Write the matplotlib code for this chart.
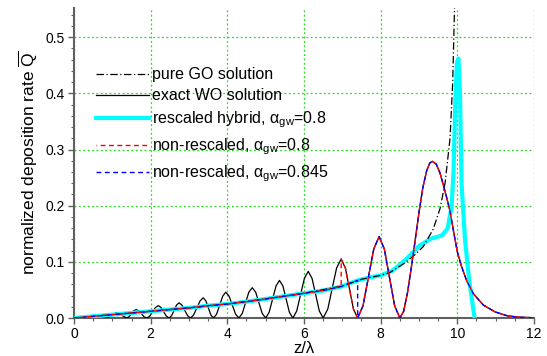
import numpy as np
import matplotlib
matplotlib.use("Agg")
import matplotlib.pyplot as plt
from matplotlib.ticker import MultipleLocator, FormatStrFormatter

plt.rcParams['font.family'] = ['Liberation Sans', 'DejaVu Sans']
plt.rcParams['mathtext.fontset'] = 'custom'
plt.rcParams['mathtext.rm'] = 'Liberation Sans'
plt.rcParams['mathtext.sf'] = 'Liberation Sans'
plt.rcParams['mathtext.it'] = 'Liberation Sans:italic'

# exact WO solution (oscillating)
wo_z = [0.0, 0.15, 0.3, 0.45, 0.63, 0.75, 0.87, 0.99, 1.11, 1.24, 1.37,
        1.43, 1.5, 1.56, 1.62, 1.69, 1.76, 1.83, 1.9,
        1.975, 2.05, 2.125, 2.2, 2.27, 2.34, 2.41, 2.48,
        2.545, 2.61, 2.675, 2.74, 2.815, 2.89, 2.965, 3.04,
        3.12, 3.205, 3.29, 3.37, 3.44, 3.505, 3.57, 3.64,
        3.72, 3.80, 3.88, 3.96, 4.045, 4.13, 4.215, 4.3,
        4.39, 4.475, 4.56, 4.65, 4.74, 4.825, 4.91, 5.0,
        5.09, 5.18, 5.27, 5.36, 5.45, 5.535, 5.62, 5.71,
        5.81, 5.91, 6.01, 6.11, 6.21, 6.305, 6.40, 6.5,
        6.62, 6.735, 6.85, 6.97, 7.08, 7.185, 7.29, 7.4,
        7.54, 7.68, 7.82, 7.96, 8.095, 8.23, 8.365, 8.5,
        8.6, 8.7, 8.8, 8.9, 9.0, 9.1, 9.2, 9.28, 9.35,
        9.45, 9.55, 9.63, 9.72, 9.81, 9.9, 10.0, 10.1, 10.24, 10.42,
        10.68, 10.98, 11.3, 11.6, 12.0]
wo_q = [0.0, 0.001, 0.002, 0.004, 0.006, 0.003, 0.0, 0.005, 0.010, 0.005, 0.0,
        0.002, 0.0075, 0.013, 0.015, 0.013, 0.0075, 0.002, 0.0,
        0.0033, 0.011, 0.0187, 0.022, 0.0187, 0.011, 0.0033, 0.0,
        0.004, 0.0135, 0.023, 0.027, 0.023, 0.0135, 0.004, 0.0,
        0.0054, 0.018, 0.0306, 0.036, 0.0306, 0.018, 0.0054, 0.0,
        0.0069, 0.023, 0.039, 0.046, 0.039, 0.023, 0.0069, 0.0,
        0.0081, 0.027, 0.0459, 0.054, 0.0459, 0.027, 0.0081, 0.0,
        0.010, 0.0335, 0.057, 0.067, 0.057, 0.0335, 0.010, 0.0,
        0.0125, 0.0415, 0.0705, 0.083, 0.0705, 0.0415, 0.0125, 0.0,
        0.0158, 0.0525, 0.089, 0.105, 0.089, 0.0525, 0.0158, 0.0,
        0.0218, 0.0725, 0.123, 0.145, 0.123, 0.0725, 0.0218, 0.0,
        0.012, 0.045, 0.09, 0.138, 0.188, 0.232, 0.262, 0.276, 0.279,
        0.274, 0.258, 0.238, 0.215, 0.19, 0.155, 0.118, 0.094, 0.067, 0.043,
        0.023, 0.011, 0.004, 0.0015, 0.0005]

# rescaled hybrid, alpha_gw = 0.8
hyb_z = [0.0, 0.5, 1.0, 1.5, 2.0, 2.5, 3.0, 3.5, 4.0, 4.5, 5.0, 5.5, 6.0, 6.5,
         6.97, 7.2, 7.4, 7.7, 8.0, 8.3, 8.5, 8.7, 9.0, 9.3, 9.6, 9.75, 9.85,
         9.9, 9.95, 9.99, 10.03, 10.07, 10.11, 10.2, 10.31, 10.45]
hyb_q = [0.0, 0.003, 0.006, 0.009, 0.012, 0.015, 0.018, 0.022, 0.025, 0.029,
         0.034, 0.039, 0.044, 0.049, 0.056, 0.062, 0.067, 0.072, 0.076, 0.084,
         0.095, 0.107, 0.128, 0.141, 0.147, 0.160, 0.198, 0.26, 0.39, 0.455,
         0.462, 0.40, 0.24, 0.14, 0.067, 0.0]

# pure GO solution
go_z = [0.0, 1.0, 2.0, 3.0, 4.0, 5.0, 6.0, 7.0, 7.5, 8.0, 8.24, 8.63, 8.9,
        9.11, 9.37, 9.55, 9.68, 9.81, 9.88, 9.93]
go_q = [0.0, 0.006, 0.012, 0.018, 0.025, 0.034, 0.044, 0.057, 0.069, 0.076,
        0.081, 0.098, 0.113, 0.127, 0.158, 0.195, 0.24, 0.32, 0.42, 0.56]

# where the non-rescaled hybrids switch from the smooth branch to the WO one
switch_08 = 6.97
switch_0845 = 7.4


def hybrid_branch(z_switch):
    hz, hq = np.array(hyb_z), np.array(hyb_q)
    wz, wq = np.array(wo_z), np.array(wo_q)
    a = hz <= z_switch
    b = wz >= z_switch
    return np.concatenate([hz[a], wz[b]]), np.concatenate([hq[a], wq[b]])


fig = plt.figure(figsize=(5.47, 3.56), dpi=100)
ax = fig.add_axes([0.1353, 0.1067, 0.8409, 0.8708])

ax.plot(wo_z, wo_q, color='black', lw=0.9, label='exact WO solution', zorder=3)
ax.plot(hyb_z, hyb_q, color='#00ffff', lw=3.0,
        label=r'rescaled hybrid, α$_{\mathsf{gw}}$=0.8', zorder=4)
ax.plot(go_z, go_q, color='black', lw=0.9, linestyle=(0, (6, 2, 1, 2)),
        label='pure GO solution', zorder=5)
bz, bq = hybrid_branch(switch_0845)
ax.plot(bz, bq, color='#0000ff', lw=1.0, linestyle=(0, (3.5, 2.5)),
        label=r'non-rescaled, α$_{\mathsf{gw}}$=0.845', zorder=6)
rz, rq = hybrid_branch(switch_08)
ax.plot(rz, rq, color='#ff0000', lw=1.0, linestyle=(3, (3.5, 2.5)),
        label=r'non-rescaled, α$_{\mathsf{gw}}$=0.8', zorder=7)

ax.set_xlim(0, 12)
ax.set_ylim(0, 0.552)
ax.xaxis.set_major_locator(MultipleLocator(2))
ax.xaxis.set_minor_locator(MultipleLocator(0.5))
ax.yaxis.set_major_locator(MultipleLocator(0.1))
ax.yaxis.set_minor_locator(MultipleLocator(0.02))
ax.yaxis.set_major_formatter(FormatStrFormatter('%.1f'))

for side in ['top', 'right']:
    ax.spines[side].set_visible(False)
for side in ['left', 'bottom']:
    ax.spines[side].set_color('#606060')
    ax.spines[side].set_linewidth(1.5)
ax.tick_params(which='both', direction='out', color='#606060', labelsize=10)
ax.tick_params(which='major', length=4.5, width=1.0, pad=2)
ax.tick_params(which='minor', length=2.5, width=0.8)

ax.grid(True, which='major', color='#22dd22', linestyle=(0, (1.5, 2)), lw=0.9)
ax.set_axisbelow(True)

ax.set_xlabel('z/λ', fontsize=12, labelpad=0)
ax.set_ylabel(r'normalized deposition rate $\overline{\mathrm{Q}}$', fontsize=12.5, labelpad=4)

handles, labels = ax.get_legend_handles_labels()
order = [2, 0, 1, 4, 3]
ax.legend([handles[i] for i in order], [labels[i] for i in order],
          loc='upper left', bbox_to_anchor=(0.035, 0.83), frameon=False,
          fontsize=11.5, handlelength=3.3, handletextpad=0.15, labelspacing=0.4,
          borderaxespad=0.0)

fig.savefig('out.png', dpi=100)
